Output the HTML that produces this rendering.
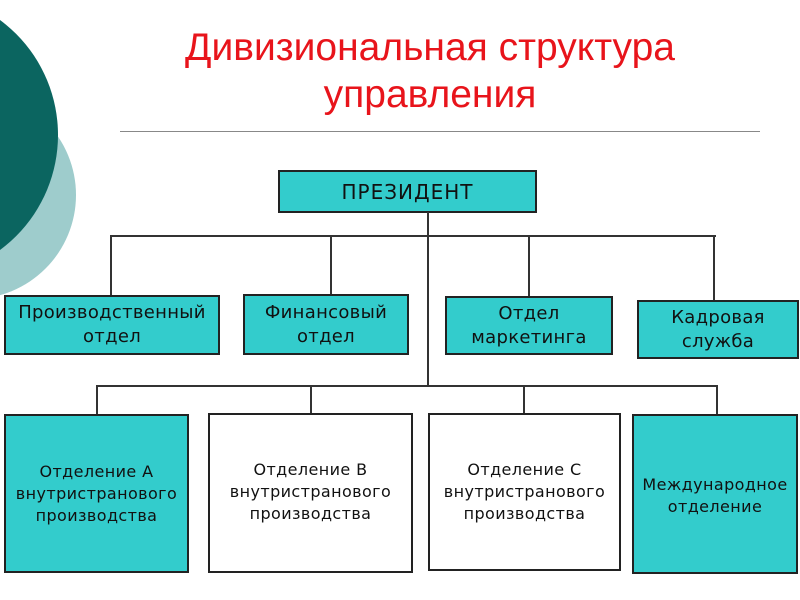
<!DOCTYPE html>
<html><head><meta charset="utf-8"><style>
body{margin:0;width:800px;height:600px;overflow:hidden;background:#fff;position:relative;font-family:"DejaVu Sans","Liberation Sans",sans-serif}
.c{position:absolute;border-radius:50%}
.b{position:absolute;box-sizing:border-box;border:2px solid #222;background:#33cccc;display:flex;align-items:center;justify-content:center;text-align:center;color:#111;font-size:18px;line-height:24px;letter-spacing:0.3px;white-space:nowrap}
.w{background:#fff}
.s{font-size:16px;line-height:22px;letter-spacing:0.4px}
.h{position:absolute;height:2px;background:#333}
.v{position:absolute;width:2px;background:#333}
.t{position:absolute;left:80px;width:700px;text-align:center;color:#e8141b;font-family:"Liberation Sans",sans-serif;font-size:39px;line-height:47px;top:24px}
</style></head><body>
<div class="c" style="left:-132px;top:91px;width:208px;height:208px;background:#9ecccc"></div>
<div class="c" style="left:-228px;top:-8px;width:286px;height:286px;background:#0b6560"></div>
<div class="t">Дивизиональная структура<br>управления</div>
<div class="h" style="left:120px;top:131px;width:640px;height:1px;background:#888"></div>
<div class="b" style="left:278px;top:170px;width:259px;height:43px;font-size:20px;letter-spacing:1px">ПРЕЗИДЕНТ</div>
<div class="v" style="left:427px;top:212px;height:175px"></div>
<div class="h" style="left:110px;top:235px;width:606px"></div>
<div class="v" style="left:110px;top:235px;height:61px"></div>
<div class="v" style="left:330px;top:235px;height:61px"></div>
<div class="v" style="left:528px;top:235px;height:62px"></div>
<div class="v" style="left:713px;top:235px;height:66px"></div>
<div class="b" style="left:4px;top:295px;width:216px;height:60px">Производственный<br>отдел</div>
<div class="b" style="left:243px;top:294px;width:166px;height:61px">Финансовый<br>отдел</div>
<div class="b" style="left:445px;top:296px;width:168px;height:59px">Отдел<br>маркетинга</div>
<div class="b" style="left:637px;top:300px;width:162px;height:59px">Кадровая<br>служба</div>
<div class="h" style="left:96px;top:385px;width:622px"></div>
<div class="v" style="left:96px;top:385px;height:30px"></div>
<div class="v" style="left:310px;top:385px;height:30px"></div>
<div class="v" style="left:523px;top:385px;height:30px"></div>
<div class="v" style="left:716px;top:385px;height:30px"></div>
<div class="b s" style="left:4px;top:414px;width:185px;height:159px">Отделение А<br>внутристранового<br>производства</div>
<div class="b s w" style="left:208px;top:413px;width:205px;height:160px;align-items:flex-start;padding-top:44px">Отделение В<br>внутристранового<br>производства</div>
<div class="b s w" style="left:428px;top:413px;width:193px;height:158px;align-items:flex-start;padding-top:44px">Отделение С<br>внутристранового<br>производства</div>
<div class="b s" style="left:632px;top:414px;width:166px;height:160px;align-items:flex-start;padding-top:58px">Международное<br>отделение</div>
</body></html>
